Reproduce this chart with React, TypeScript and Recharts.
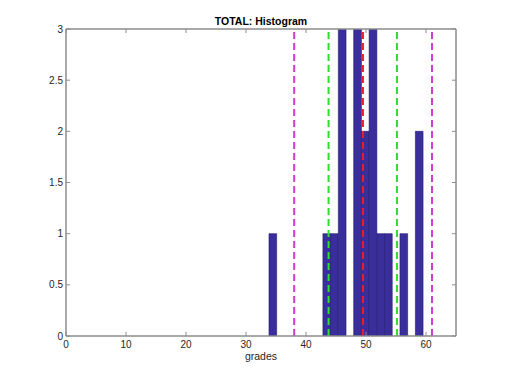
import React from 'react';
import { ComposedChart, XAxis, YAxis, ReferenceArea, ReferenceLine, Scatter } from 'recharts';

// Histogram bin left edges (grades) and counts
const binEdges = [33.83, 35.11, 36.40, 37.68, 38.97, 40.25, 41.53, 42.82, 44.10, 45.39, 46.67, 47.95, 49.24, 50.52, 51.81, 53.09, 54.37, 55.66, 56.94, 58.23, 59.51];
const binCounts = [1, 0, 0, 0, 0, 0, 0, 1, 1, 3, 0, 3, 2, 3, 1, 1, 0, 1, 0, 2];

// Reference lines: mean, mean ± 1 std, mean ± 2 std
const meanLine = [49.49];
const std1Lines = [43.76, 55.16];
const std2Lines = [38.03, 61.0];

const xTicks = [0, 10, 20, 30, 40, 50, 60];
const yTicks = [0, 0.5, 1, 1.5, 2, 2.5, 3];
const xDomain = [0, 65];
const yDomain = [0, 3];

const titleText = 'TOTAL: Histogram';
const xLabelText = 'grades';

const bins = binCounts.map((c, i) => ({
  x0: binEdges[i],
  x1: binEdges[i + 1],
  mid: (binEdges[i] + binEdges[i + 1]) / 2,
  count: c,
}));

const FONT = '"Liberation Sans", Arial, Helvetica, sans-serif';
const AXIS = '#8c8c8c';
const TEXT = '#262626';
const BAR = '#3a2e9c';

const fmtY = (v: number) => String(v);

export default function App() {
  return (
    <div style={{ position: 'absolute', left: 0, top: 0, width: 505, height: 378, background: '#fff' }}>
      <ComposedChart
        width={505}
        height={378}
        data={bins}
        margin={{ top: 28, right: 48, bottom: 1, left: 30 }}
        style={{ fontFamily: FONT }}
      >
        <XAxis
          xAxisId="b"
          type="number"
          dataKey="mid"
          domain={xDomain}
          ticks={xTicks}
          interval={0}
          allowDataOverflow
          height={41}
          stroke={AXIS}
          tickSize={-4}
          tickMargin={9}
          tick={{ fill: TEXT, fontSize: 10, fontFamily: FONT }}
        />
        <XAxis
          xAxisId="t"
          orientation="top"
          type="number"
          dataKey="mid"
          domain={xDomain}
          ticks={xTicks}
          interval={0}
          allowDataOverflow
          height={1}
          stroke={AXIS}
          tickSize={-4}
          tickFormatter={() => ''}
        />
        <YAxis
          yAxisId="l"
          type="number"
          domain={yDomain}
          ticks={yTicks}
          interval={0}
          allowDataOverflow
          width={36}
          stroke={AXIS}
          tickSize={-4}
          tickMargin={7}
          tickFormatter={fmtY}
          tick={{ fill: TEXT, fontSize: 10, fontFamily: FONT }}
        />
        <YAxis
          yAxisId="r"
          orientation="right"
          type="number"
          domain={yDomain}
          ticks={yTicks}
          interval={0}
          allowDataOverflow
          width={1}
          stroke={AXIS}
          tickSize={-4}
          tickFormatter={() => ''}
        />
        {bins
          .filter((b) => b.count > 0)
          .map((b, i) => (
            <ReferenceArea
              key={'bin' + i}
              xAxisId="b"
              yAxisId="l"
              x1={b.x0}
              x2={b.x1}
              y1={0}
              y2={b.count}
              fill={BAR}
              fillOpacity={1}
              stroke="#241c6a"
              strokeWidth={0.6}
              ifOverflow="hidden"
            />
          ))}
        {std2Lines.map((v, i) => (
          <ReferenceLine key={'s2' + i} xAxisId="b" yAxisId="l" x={v} stroke="#cf3ccf" strokeWidth={2} strokeDasharray="7 4" />
        ))}
        {std1Lines.map((v, i) => (
          <ReferenceLine key={'s1' + i} xAxisId="b" yAxisId="l" x={v} stroke="#2fdc2f" strokeWidth={2} strokeDasharray="7 4" />
        ))}
        {meanLine.map((v, i) => (
          <ReferenceLine key={'m' + i} xAxisId="b" yAxisId="l" x={v} stroke="#e8202a" strokeWidth={2} strokeDasharray="7 4" />
        ))}
        <ReferenceArea
          xAxisId="b"
          yAxisId="l"
          x1={xDomain[0]}
          x2={xDomain[1]}
          y1={yDomain[0]}
          y2={yDomain[1]}
          fill="none"
          fillOpacity={0}
          stroke={AXIS}
          strokeWidth={1}
        />
        <Scatter
          xAxisId="b"
          yAxisId="l"
          dataKey="count"
          isAnimationActive={false}
          shape={() => <g />}
        />
      </ComposedChart>
      <svg width={505} height={378} style={{ position: 'absolute', left: 0, top: 0, pointerEvents: 'none' }}>
        <text x={261} y={25} textAnchor="middle" fontFamily={FONT} fontWeight="bold" fontSize={10.5} fill="#000">
          {titleText}
        </text>
        <text x={261} y={360} textAnchor="middle" fontFamily={FONT} fontSize={10.5} fill={TEXT}>
          {xLabelText}
        </text>
      </svg>
    </div>
  );
}
